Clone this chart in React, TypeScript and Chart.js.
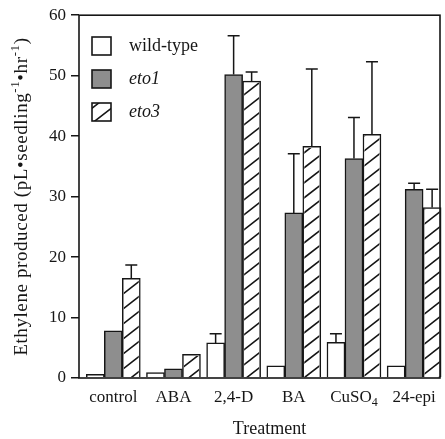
import React, { useEffect, useRef } from 'react';
import { Chart, registerables } from 'chart.js';

Chart.register(...registerables);

const categories = ['control', 'ABA', '2,4-D', 'BA', 'CuSO₄', '24-epi'];
const seriesNames = ['wild-type', 'eto1', 'eto3'];
const wildType = [0.6, 0.9, 5.8, 2.0, 5.9, 2.0];
const eto1 = [7.8, 1.5, 50.2, 27.3, 36.3, 31.2];
const eto3 = [16.5, 3.9, 49.1, 38.3, 40.3, 28.2];
const wildTypeErr = [null, null, 1.5, null, 1.4, null];
const eto1Err = [null, null, 6.4, 9.8, 6.8, 1.0];
const eto3Err = [2.2, null, 1.5, 12.8, 12.0, 3.0];
const yMin = 0;
const yMax = 60;
const yStep = 10;
const xTitle = 'Treatment';

const FONT = '"Liberation Serif", "Times New Roman", serif';
const INK = '#161616';
const GRAY = '#8e8e8e';
const HATCH_STEP = 15;
const HATCH_SLOPE = 0.78;

function hatchRect(ctx: CanvasRenderingContext2D, l: number, t: number, r: number, b: number) {
  ctx.save();
  ctx.beginPath();
  ctx.rect(l, t, r - l, b - t);
  ctx.clip();
  ctx.strokeStyle = INK;
  ctx.lineWidth = 1.6;
  ctx.beginPath();
  // lines y + slope * x = c
  const cMin = t + HATCH_SLOPE * l;
  const cMax = b + HATCH_SLOPE * r;
  const start = Math.floor(cMin / HATCH_STEP) * HATCH_STEP;
  for (let c = start; c <= cMax + HATCH_STEP; c += HATCH_STEP) {
    ctx.moveTo(l - 2, c - HATCH_SLOPE * (l - 2));
    ctx.lineTo(r + 2, c - HATCH_SLOPE * (r + 2));
  }
  ctx.stroke();
  ctx.restore();
}

function drawSubText(ctx: CanvasRenderingContext2D, text: string, x: number, y: number, size: number) {
  const parts: { t: string; sub: boolean }[] = [];
  for (const ch of text) {
    const code = ch.charCodeAt(0);
    const sub = code >= 0x2080 && code <= 0x2089;
    const t = sub ? String.fromCharCode(code - 0x2080 + 48) : ch;
    const last = parts[parts.length - 1];
    if (last && last.sub === sub) last.t += t;
    else parts.push({ t, sub });
  }
  const fontFor = (sub: boolean) => `${sub ? Math.round(size * 0.72) : size}px ${FONT}`;
  let total = 0;
  for (const p of parts) {
    ctx.font = fontFor(p.sub);
    total += ctx.measureText(p.t).width;
  }
  let cx = x - total / 2;
  ctx.textAlign = 'left';
  ctx.textBaseline = 'middle';
  for (const p of parts) {
    ctx.font = fontFor(p.sub);
    ctx.fillText(p.t, cx, p.sub ? y + size * 0.3 : y);
    cx += ctx.measureText(p.t).width;
  }
}

export default function App() {
  const ref = useRef<HTMLCanvasElement | null>(null);

  useEffect(() => {
    const canvas = ref.current;
    if (!canvas) return;
    const errs = [wildTypeErr, eto1Err, eto3Err];
    const vals = [wildType, eto1, eto3];
    const fills = ['#ffffff', GRAY, '#ffffff'];

    const overlay = {
      id: 'overlay',
      afterDatasetsDraw(chart: any) {
        const { ctx, chartArea } = chart;
        const xs = chart.scales.x;
        const ys = chart.scales.y;
        ctx.save();

        // hatching of the eto3 bars
        const hMeta = chart.getDatasetMeta(2);
        hMeta.data.forEach((bar: any) => {
          const p = bar.getProps(['x', 'y', 'base', 'width'], true);
          const l = p.x - p.width / 2 + 1.5;
          const r = p.x + p.width / 2 - 1.5;
          const t = Math.min(p.y, p.base) + 1.5;
          const b = Math.max(p.y, p.base);
          if (b > t) hatchRect(ctx, l, t, r, b);
        });

        // frame
        ctx.strokeStyle = INK;
        ctx.lineWidth = 1.6;
        ctx.strokeRect(chartArea.left, chartArea.top, chartArea.right - chartArea.left, chartArea.bottom - chartArea.top);

        // error bars
        ctx.lineWidth = 1.5;
        errs.forEach((arr, di) => {
          const meta = chart.getDatasetMeta(di);
          arr.forEach((e, j) => {
            if (e == null) return;
            const bar = meta.data[j];
            const v = vals[di][j];
            const y0 = ys.getPixelForValue(v);
            const y1 = ys.getPixelForValue(v + e);
            ctx.beginPath();
            ctx.moveTo(bar.x, y0);
            ctx.lineTo(bar.x, y1);
            ctx.moveTo(bar.x - 6, y1);
            ctx.lineTo(bar.x + 6, y1);
            ctx.stroke();
          });
        });

        // category labels
        ctx.fillStyle = INK;
        categories.forEach((c, i) => {
          drawSubText(ctx, c, xs.getPixelForValue(i), 398, 17);
        });

        // x title
        ctx.font = `18px ${FONT}`;
        ctx.textAlign = 'center';
        ctx.textBaseline = 'middle';
        ctx.fillText(xTitle, (chartArea.left + chartArea.right) / 2 + 10, 429);

        // y title with superscripts
        const size = 19;
        const segs: { t: string; sup: boolean }[] = [
          { t: 'Ethylene produced (pL•seedling', sup: false },
          { t: '-1', sup: true },
          { t: '•hr', sup: false },
          { t: '-1', sup: true },
          { t: ')', sup: false },
        ];
        const f = (sup: boolean) => `${sup ? Math.round(size * 0.66) : size}px ${FONT}`;
        (ctx as any).letterSpacing = '0.6px';
        let total = 0;
        segs.forEach((s) => {
          ctx.font = f(s.sup);
          total += ctx.measureText(s.t).width;
        });
        ctx.translate(22, (chartArea.top + chartArea.bottom) / 2);
        ctx.rotate(-Math.PI / 2);
        let cx = -total / 2;
        ctx.textAlign = 'left';
        ctx.textBaseline = 'middle';
        segs.forEach((s) => {
          ctx.font = f(s.sup);
          ctx.fillText(s.t, cx, s.sup ? -size * 0.33 : 0);
          cx += ctx.measureText(s.t).width;
        });
        ctx.setTransform(1, 0, 0, 1, 0, 0);
        (ctx as any).letterSpacing = '0px';

        // legend
        const lx = 92;
        const ly = [37, 70, 103];
        const bw = 19;
        const bh = 18;
        seriesNames.forEach((name, i) => {
          ctx.fillStyle = fills[i];
          ctx.fillRect(lx, ly[i], bw, bh);
          if (i === 2) hatchRect(ctx, lx, ly[i], lx + bw, ly[i] + bh);
          ctx.strokeStyle = INK;
          ctx.lineWidth = 1.6;
          ctx.strokeRect(lx, ly[i], bw, bh);
          ctx.fillStyle = INK;
          ctx.font = `${i === 0 ? '' : 'italic '}18px ${FONT}`;
          ctx.textAlign = 'left';
          ctx.textBaseline = 'middle';
          ctx.fillText(name, lx + 37, ly[i] + bh / 2);
        });
        ctx.restore();
      },
    };

    const mk = (arr: number[]) => arr.map((v, i) => ({ x: i, y: v }));

    const chart = new Chart(canvas, {
      type: 'bar',
      data: {
        datasets: [wildType, eto1, eto3].map((arr, i) => ({
          label: seriesNames[i],
          data: mk(arr),
          backgroundColor: fills[i],
          borderColor: INK,
          borderWidth: 1.5,
          barThickness: 18,
          grouped: true,
          clip: false as any,
        })),
      },
      options: {
        responsive: false,
        animation: false,
        layout: { padding: { top: 15, right: 5, left: 0, bottom: 0 } },
        plugins: { legend: { display: false }, tooltip: { enabled: false }, title: { display: false } },
        scales: {
          x: {
            type: 'linear',
            min: -0.57,
            max: 5.43,
            offset: false,
            grid: { display: false },
            border: { display: false },
            ticks: { display: false },
            afterFit: (s: any) => {
              s.height = 61;
            },
          },
          y: {
            min: yMin,
            max: yMax,
            grid: { display: true, drawOnChartArea: false, drawTicks: true, tickLength: 8, color: INK, lineWidth: 1.5 },
            border: { display: false },
            ticks: { stepSize: yStep, color: INK, padding: 5, font: { family: FONT, size: 17 } },
            afterFit: (s: any) => {
              s.width = 79;
            },
          },
        },
      },
      plugins: [overlay],
    } as any);
    return () => chart.destroy();
  }, []);

  return (
    <div style={{ position: 'fixed', left: 0, top: 0, width: 445, height: 439, background: '#fff' }}>
      <canvas ref={ref} width={445} height={439} />
    </div>
  );
}
